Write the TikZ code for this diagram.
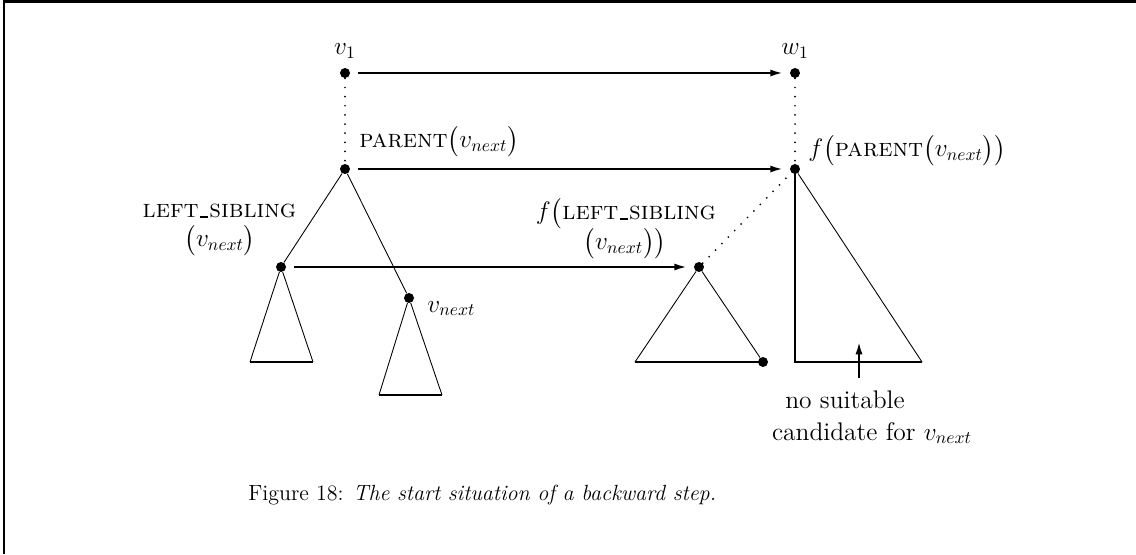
\documentclass[tikz,border=0pt]{standalone}
\usepackage{amsmath}
\usetikzlibrary{arrows.meta}
\newcommand\lowbar{\kern0.05em\rule{0.32em}{1.1pt}\kern0.05em}

\begin{document}
\begin{tikzpicture}[x=1cm,y=1cm,
  dot/.style={circle,fill=black,inner sep=0pt,minimum size=0.2cm},
  edge/.style={line width=0.5pt},
  base/.style={line width=1.2pt},
  link/.style={line width=1.1pt,-{Latex[length=7pt,width=4pt]},shorten <=0.16cm,shorten >=0.14cm},
  trace/.style={line width=1.1pt,line cap=round,dash pattern=on 0pt off 5.2pt},
  lbl/.style={font=\fontsize{14.5}{17}\selectfont,inner sep=0pt}]
\useasboundingbox (0,0) rectangle (22.720,11.080);
% frame (top and left only)
\draw[line width=1.7pt] (0.080,0.000) -- (0.080,11.050) -- (22.720,11.050);
% tree nodes
\node[dot] (v1)    at (6.900,9.620) {};
\node[dot] (w1)    at (15.900,9.620) {};
\node[dot] (par)   at (6.900,7.700) {};
\node[dot] (fpar)  at (15.900,7.700) {};
\node[dot] (lsib)  at (5.620,5.740) {};
\node[dot] (flsib) at (13.980,5.740) {};
\node[dot] (vnext) at (8.180,5.120) {};
\node[dot] (fend)  at (15.260,3.840) {};
% subtree corners
\coordinate (la) at (5.000,3.840);
\coordinate (lb) at (6.260,3.840);
\coordinate (va) at (7.580,3.180);
\coordinate (vb) at (8.840,3.180);
\coordinate (fa) at (12.700,3.840);
\coordinate (pa) at (15.900,3.840);
\coordinate (pb) at (18.440,3.840);
\coordinate (gapbot) at (17.180,3.520);
\coordinate (gaptop) at (17.180,4.240);
% dotted paths
\draw[trace] (v1) -- (par);
\draw[trace] (w1) -- (fpar);
\draw[trace] (flsib) -- (fpar);
% edges of the source tree
\draw[edge] (par) -- (lsib);
\draw[edge] (par) -- (vnext);
\draw[edge] (lsib) -- (la);
\draw[edge] (lsib) -- (lb);
\draw[base] (la) -- (lb);
\draw[edge] (vnext) -- (va);
\draw[edge] (vnext) -- (vb);
\draw[base] (va) -- (vb);
% image tree
\draw[edge] (flsib) -- (fa);
\draw[edge] (flsib) -- (fend);
\draw[base] (fa) -- (fend.center);
\draw[base] (fpar.center) -- (pa) -- (pb);
\draw[edge] (fpar) -- (pb);
% mappings
\draw[link] (v1) -- (w1);
\draw[link] (par) -- (fpar);
\draw[link] (lsib) -- (flsib);
\draw[line width=1.1pt,-{Latex[length=7pt,width=4pt]}] (gapbot) -- (gaptop);
% labels
\node[lbl,anchor=base] (tv1) at (6.900,9.980) {$v_1$};
\node[lbl,anchor=base] (tw1) at (15.900,9.980) {$w_1$};
\node[lbl,anchor=base west] (tpar) at (7.180,8.120) {\textsc{parent}$\bigl(v_{next}\bigr)$};
\node[lbl,anchor=base west] (tfpar) at (16.160,7.940) {$f\bigl($\textsc{parent}$\bigl(v_{next}\bigr)\bigr)$};
\node[lbl,anchor=base] (tlsib) at (4.390,6.720) {\textsc{left\lowbar sibling}};
\node[lbl,anchor=base] (tlsib2) at (4.400,6.140) {$\bigl(v_{next}\bigr)$};
\node[lbl,anchor=base] (tflsib) at (12.520,6.680) {$f\bigl($\textsc{left\lowbar sibling}};
\node[lbl,anchor=base] (tflsib2) at (12.500,6.080) {$\bigl(v_{next}\bigr)\bigr)$};
\node[lbl,anchor=base west] (tvnext) at (8.540,4.840) {$v_{next}$};
\node[lbl,anchor=base] (tnone) at (16.900,2.920) {no suitable};
\node[lbl,anchor=base] (tnone2) at (17.440,2.280) {candidate for $v_{next}$};
\node[anchor=base west,inner sep=0pt,font=\fontsize{12.5}{15}\selectfont] (cap) at (4.960,1.080) {Figure 18: \textit{The start situation of a backward step.}};
\end{tikzpicture}
\end{document}
